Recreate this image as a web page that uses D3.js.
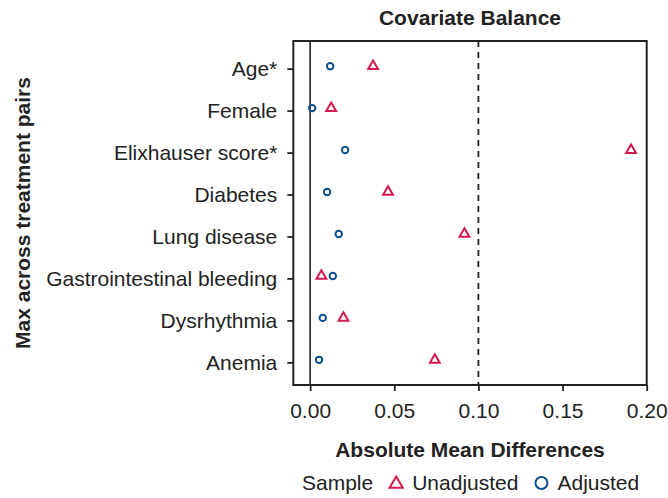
<!DOCTYPE html>
<html>
<head>
<meta charset="utf-8">
<script src="https://cdn.jsdelivr.net/npm/d3@7"></script>
<style>
  html, body { margin: 0; padding: 0; background: #fff; }
  svg text { font-family: "Liberation Sans", Arial, Helvetica, sans-serif; fill: #222; }
</style>
</head>
<body>
<svg id="chart" width="668" height="498"></svg>
<script>
// Covariates, top to bottom
const covariates = [
  "Age*", "Female", "Elixhauser score*", "Diabetes",
  "Lung disease", "Gastrointestinal bleeding", "Dysrhythmia", "Anemia"
];
// Absolute mean differences (max across treatment pairs)
const unadjusted = [0.0374, 0.0125, 0.1907, 0.0463, 0.0917, 0.0067, 0.0198, 0.0741];
const adjusted   = [0.0119, 0.0012, 0.0208, 0.0101, 0.0170, 0.0135, 0.0075, 0.0053];
const xTicks = [0, 0.05, 0.10, 0.15, 0.20];
const threshold = 0.1;

const samples = [
  { name: "Unadjusted", values: unadjusted, shape: "triangle", color: "#d31a4b" },
  { name: "Adjusted",   values: adjusted,   shape: "circle",   color: "#0c4f8c" }
];

const svg = d3.select("#chart");
const ink = "#222";
const fontSize = "21px";
const plot = { left: 293.3, right: 646.7, top: 41, bottom: 385 };

const x = d3.scaleLinear().domain([-0.01, 0.2]).range([plot.left, plot.right]);
const y = d3.scalePoint().domain(covariates).range([plot.top, plot.bottom]).padding(0.6);

// Title
svg.append("text")
  .attr("x", (plot.left + plot.right) / 2).attr("y", 25)
  .attr("text-anchor", "middle")
  .style("font-size", fontSize).style("font-weight", "bold")
  .text("Covariate Balance");

// Reference lines: zero and the 0.1 balance threshold
svg.append("line")
  .attr("x1", x(0)).attr("x2", x(0))
  .attr("y1", plot.top).attr("y2", plot.bottom)
  .attr("stroke", ink).attr("stroke-width", 1.6);
svg.append("line")
  .attr("x1", x(threshold)).attr("x2", x(threshold))
  .attr("y1", plot.top).attr("y2", plot.bottom)
  .attr("stroke", ink).attr("stroke-width", 1.8)
  .attr("stroke-dasharray", "6,5");

// Axes
const yAxis = svg.append("g")
  .attr("transform", `translate(${plot.left},2.5)`)
  .call(d3.axisLeft(y).tickSize(6).tickPadding(10));
const xAxis = svg.append("g")
  .attr("transform", `translate(0,${plot.bottom})`)
  .call(d3.axisBottom(x).tickValues(xTicks).tickFormat(d3.format(".2f")).tickSize(6).tickPadding(6));
[yAxis, xAxis].forEach(g => {
  g.select(".domain").remove();
  g.selectAll(".tick line").attr("stroke", ink).attr("stroke-width", 1.8);
  g.selectAll(".tick text").style("font-size", fontSize).attr("fill", ink);
});
yAxis.selectAll(".tick text").attr("dy", "0.34em");
xAxis.selectAll(".tick text").attr("dy", "0.98em");

// Panel border
svg.append("rect")
  .attr("x", plot.left).attr("y", plot.top)
  .attr("width", plot.right - plot.left).attr("height", plot.bottom - plot.top)
  .attr("fill", "none").attr("stroke", ink).attr("stroke-width", 2);

// Points
const triangle = d3.symbol().type(d3.symbolTriangle);
samples.forEach(s => {
  const g = svg.append("g");
  const data = covariates.map((c, i) => ({ c, v: s.values[i] }));
  if (s.shape === "circle") {
    g.selectAll("circle").data(data).join("circle")
      .attr("cx", d => x(d.v)).attr("cy", d => y(d.c))
      .attr("r", 3.2)
      .attr("fill", "none").attr("stroke", s.color).attr("stroke-width", 2);
  } else {
    g.selectAll("path").data(data).join("path")
      .attr("transform", d => `translate(${x(d.v)},${y(d.c)})`)
      .attr("d", triangle.size(42)())
      .attr("fill", "none").attr("stroke", s.color).attr("stroke-width", 2)
      .attr("stroke-linejoin", "miter");
  }
});

// Axis titles
svg.append("text")
  .attr("x", (plot.left + plot.right) / 2).attr("y", 457)
  .attr("text-anchor", "middle")
  .style("font-size", fontSize).style("font-weight", "bold")
  .text("Absolute Mean Differences");
svg.append("text")
  .attr("transform", `translate(30,${(plot.top + plot.bottom) / 2}) rotate(-90)`)
  .attr("text-anchor", "middle")
  .style("font-size", fontSize).style("font-weight", "bold")
  .text("Max across treatment pairs");

// Legend
const legend = svg.append("g").attr("transform", "translate(302,490)");
let lx = 0;
const title = legend.append("text").attr("x", lx).style("font-size", fontSize).text("Sample");
lx += title.node().getComputedTextLength() + 23;
samples.forEach(s => {
  if (s.shape === "circle") {
    legend.append("circle").attr("cx", lx).attr("cy", -7).attr("r", 6)
      .attr("fill", "none").attr("stroke", s.color).attr("stroke-width", 2);
  } else {
    legend.append("path")
      .attr("transform", `translate(${lx},-6)`)
      .attr("d", triangle.size(75)())
      .attr("fill", "none").attr("stroke", s.color).attr("stroke-width", 2);
  }
  const t = legend.append("text").attr("x", lx + 16).style("font-size", fontSize).text(s.name);
  lx += 16 + t.node().getComputedTextLength() + 23;
});
</script>
</body>
</html>
